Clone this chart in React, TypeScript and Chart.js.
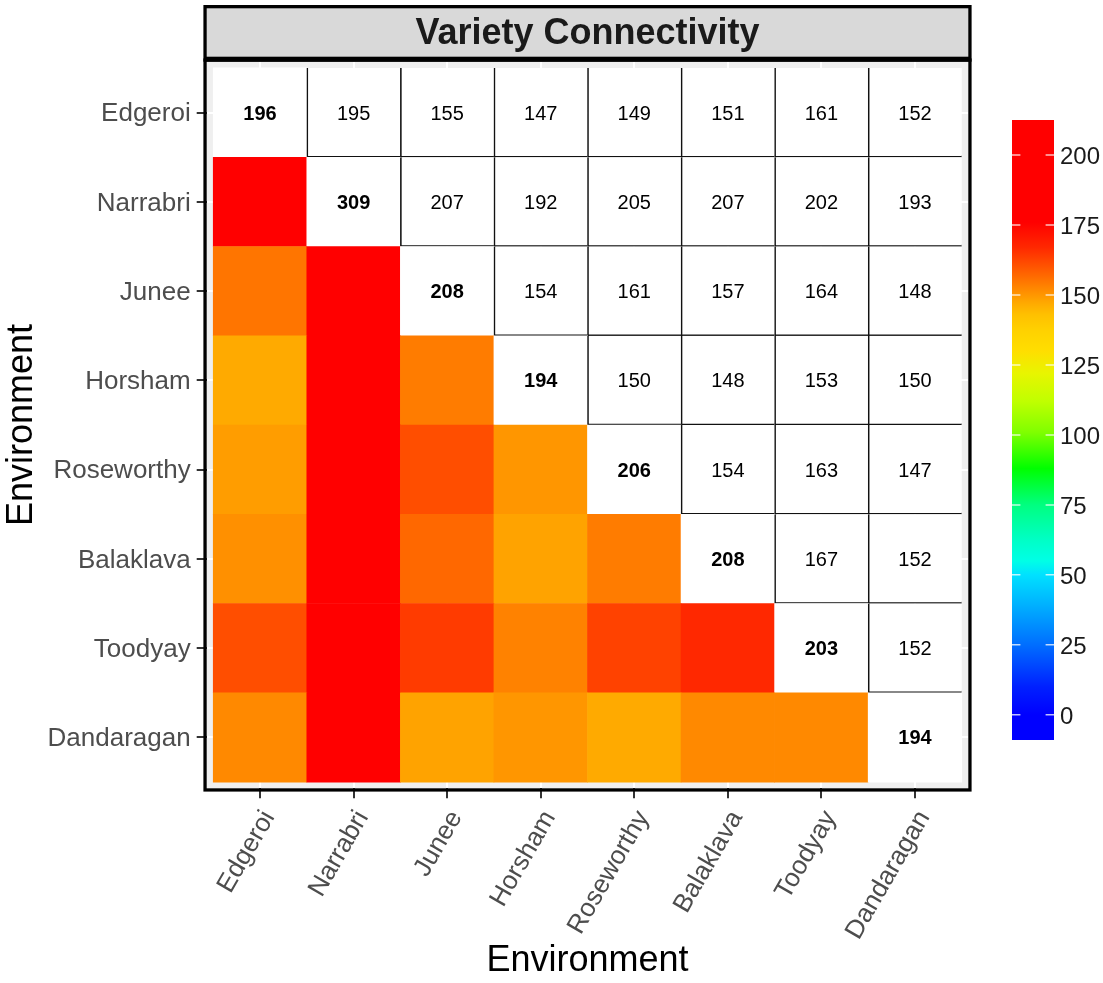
import React, { useEffect, useRef } from 'react';
import { Chart, registerables } from 'chart.js';

Chart.register(...registerables);

const FONT = '"Liberation Sans", Arial, Helvetica, sans-serif';
Chart.defaults.font.family = FONT;

// ---- data ----
const ENVIRONMENTS = ['Edgeroi', 'Narrabri', 'Junee', 'Horsham', 'Roseworthy', 'Balaklava', 'Toodyay', 'Dandaragan'];
// upper triangle, each row starts at its diagonal
const ROW_EDGEROI = [196, 195, 155, 147, 149, 151, 161, 152];
const ROW_NARRABRI = [309, 207, 192, 205, 207, 202, 193];
const ROW_JUNEE = [208, 154, 161, 157, 164, 148];
const ROW_HORSHAM = [194, 150, 148, 153, 150];
const ROW_ROSEWORTHY = [206, 154, 163, 147];
const ROW_BALAKLAVA = [208, 167, 152];
const ROW_TOODYAY = [203, 152];
const ROW_DANDARAGAN = [194];
const UPPER_ROWS = [ROW_EDGEROI, ROW_NARRABRI, ROW_JUNEE, ROW_HORSHAM, ROW_ROSEWORTHY, ROW_BALAKLAVA, ROW_TOODYAY, ROW_DANDARAGAN];

const LEGEND_TICKS = [0, 25, 50, 75, 100, 125, 150, 175, 200];
const LEGEND_MIN = -9;
const LEGEND_MAX = 212.5;

const TITLE = 'Variety Connectivity';
const AXIS_TITLE = 'Environment';

// ---- colour scale ----
const COLOR_STOPS: [number, number[]][] = [
  [0, [0, 0, 255]],
  [10, [0, 32, 255]],
  [25, [0, 110, 255]],
  [40, [0, 180, 255]],
  [50, [0, 225, 255]],
  [55, [0, 255, 230]],
  [62, [0, 255, 200]],
  [75, [0, 255, 128]],
  [88, [0, 255, 0]],
  [101, [128, 255, 0]],
  [112, [192, 255, 0]],
  [122, [232, 245, 0]],
  [130, [255, 222, 0]],
  [137, [255, 210, 0]],
  [143, [255, 192, 0]],
  [147, [255, 170, 0]],
  [157, [255, 104, 0]],
  [167, [255, 40, 0]],
  [176, [255, 0, 0]],
];

function colorFor(v: number): string {
  const s = COLOR_STOPS;
  if (v <= s[0][0]) return `rgb(${s[0][1].join(',')})`;
  if (v >= s[s.length - 1][0]) return `rgb(${s[s.length - 1][1].join(',')})`;
  for (let i = 0; i < s.length - 1; i++) {
    const [a, ca] = s[i];
    const [b, cb] = s[i + 1];
    if (v >= a && v <= b) {
      const t = (v - a) / (b - a);
      const c = ca.map((x, k) => Math.round(x + (cb[k] - x) * t));
      return `rgb(${c.join(',')})`;
    }
  }
  return 'rgb(255,0,0)';
}

function valueAt(r: number, c: number): number {
  return c >= r ? UPPER_ROWS[r][c - r] : UPPER_ROWS[c][r - c];
}

const EXPAND = 0.07;

export default function App() {
  const mainRef = useRef<HTMLCanvasElement>(null);
  const barRef = useRef<HTMLCanvasElement>(null);

  useEffect(() => {
    const n = ENVIRONMENTS.length;
    const cells: any[] = [];
    const bg: string[] = [];
    for (let r = 0; r < n; r++) {
      for (let c = 0; c < n; c++) {
        const v = valueAt(r, c);
        cells.push({ x: c, y: [r - 0.5, r + 0.5], v, r, c });
        bg.push(c >= r ? '#FFFFFF' : colorFor(v));
      }
    }

    const panelPlugin = {
      id: 'panel',
      beforeDraw(chart: any) {
        const { ctx, chartArea: a } = chart;
        ctx.save();
        ctx.fillStyle = '#EFEFEF';
        ctx.fillRect(a.left, a.top, a.right - a.left, a.bottom - a.top);
        ctx.restore();
      },
      afterDatasetsDraw(chart: any) {
        const { ctx, scales } = chart;
        ctx.save();
        ctx.textAlign = 'center';
        ctx.textBaseline = 'middle';
        ctx.fillStyle = '#000000';
        for (let r = 0; r < n; r++) {
          for (let c = r; c < n; c++) {
            ctx.font = `${c === r ? 'bold ' : ''}20px ${FONT}`;
            ctx.fillText(String(valueAt(r, c)), scales.x.getPixelForValue(c), scales.y.getPixelForValue(r) + 1.5);
          }
        }
        ctx.restore();
      },
      afterDraw(chart: any) {
        const { ctx, chartArea: a } = chart;
        const bw = 3.3;
        ctx.save();
        // panel border
        ctx.strokeStyle = '#000000';
        ctx.lineWidth = bw;
        ctx.strokeRect(a.left - bw / 2, a.top - bw / 2, a.right - a.left + bw, a.bottom - a.top + bw);
        // strip
        const stripTop = 5;
        ctx.fillStyle = '#000000';
        ctx.fillRect(a.left - bw, stripTop, a.right - a.left + 2 * bw, a.top - stripTop);
        ctx.fillStyle = '#D9D9D9';
        ctx.fillRect(a.left, stripTop + bw, a.right - a.left, a.top - stripTop - bw - 5);
        ctx.fillStyle = '#1A1A1A';
        ctx.font = `bold 36px ${FONT}`;
        ctx.textAlign = 'center';
        ctx.textBaseline = 'middle';
        ctx.fillText(TITLE, (a.left + a.right) / 2, 34);
        ctx.restore();
      },
    };

    const axisCommon = {
      type: 'linear' as const,
      offset: false,
      grid: { offset: false, color: '#FFFFFF', lineWidth: 2, tickColor: '#333333', tickLength: 10, tickWidth: 2 },
      border: { display: false },
      title: { display: true, text: AXIS_TITLE, font: { size: 36 }, color: '#000000', padding: 0 },
    };

    // a blank leading line nudges the label slightly, matching the reference placement
    const nudged = (v: any) => (ENVIRONMENTS[v] !== undefined ? ['', ENVIRONMENTS[v]] : '');

    const main = new Chart(mainRef.current!, {
      type: 'bar',
      data: {
        datasets: [
          {
            data: cells,
            backgroundColor: bg,
            borderColor: '#111111',
            borderSkipped: false,
            borderWidth: (ctx: any) => {
              const d = ctx.raw;
              if (!d) return 0;
              return d.c > d.r ? { left: 1.6, bottom: 1.6, top: 0, right: 0 } : 0;
            },
            barPercentage: 1,
            categoryPercentage: 1,
          } as any,
        ],
      },
      options: {
        animation: false,
        responsive: false,
        events: [],
        layout: { padding: { top: 61.7, right: 134.7, bottom: 0, left: 0 } },
        plugins: { legend: { display: false }, tooltip: { enabled: false }, title: { display: false } },
        scales: {
          x: {
            ...axisCommon,
            min: -0.5 - EXPAND,
            max: n - 0.5 + EXPAND,
            afterBuildTicks: (s: any) => {
              s.ticks = ENVIRONMENTS.map((_, i) => ({ value: i }));
            },
            afterFit: (s: any) => {
              s.height = 194.7;
            },
            ticks: {
              autoSkip: false,
              maxRotation: 60,
              minRotation: 60,
              padding: 7,
              font: { size: 26, lineHeight: 0.4 },
              color: '#4D4D4D',
              callback: nudged,
            },
          },
          y: {
            ...axisCommon,
            reverse: true,
            min: -0.5 - EXPAND,
            max: n - 0.5 + EXPAND,
            afterBuildTicks: (s: any) => {
              s.ticks = ENVIRONMENTS.map((_, i) => ({ value: i }));
            },
            afterFit: (s: any) => {
              s.width = 206.7;
            },
            ticks: {
              autoSkip: false,
              padding: 6,
              font: { size: 26, lineHeight: 0.13 },
              color: '#4D4D4D',
              callback: nudged,
            },
          },
        } as any,
      },
      plugins: [panelPlugin],
    });

    const legendTickPlugin = {
      id: 'legendTicks',
      afterDatasetsDraw(chart: any) {
        const { ctx, chartArea: a, scales } = chart;
        ctx.save();
        ctx.strokeStyle = 'rgba(255,255,255,0.75)';
        ctx.lineWidth = 1.5;
        const len = (a.right - a.left) / 5;
        for (const t of LEGEND_TICKS) {
          const y = scales.y.getPixelForValue(t);
          ctx.beginPath();
          ctx.moveTo(a.left, y);
          ctx.lineTo(a.left + len, y);
          ctx.moveTo(a.right - len, y);
          ctx.lineTo(a.right, y);
          ctx.stroke();
        }
        ctx.restore();
      },
    };

    const bar = new Chart(barRef.current!, {
      type: 'bar',
      data: {
        labels: [''],
        datasets: [
          {
            data: [[LEGEND_MIN, LEGEND_MAX]],
            backgroundColor: (ctx: any) => {
              const { chart } = ctx;
              const a = chart.chartArea;
              if (!a) return '#FF0000';
              const g = chart.ctx.createLinearGradient(0, a.bottom, 0, a.top);
              const span = LEGEND_MAX - LEGEND_MIN;
              g.addColorStop(0, colorFor(LEGEND_MIN));
              for (const [v] of COLOR_STOPS) {
                const p = (v - LEGEND_MIN) / span;
                if (p >= 0 && p <= 1) g.addColorStop(p, colorFor(v));
              }
              g.addColorStop(1, colorFor(LEGEND_MAX));
              return g;
            },
            borderWidth: 0,
            barPercentage: 1,
            categoryPercentage: 1,
          } as any,
        ],
      },
      options: {
        animation: false,
        responsive: false,
        events: [],
        layout: { padding: { top: 120, bottom: 243, left: 12, right: 0 } },
        plugins: { legend: { display: false }, tooltip: { enabled: false } },
        scales: {
          x: { display: false },
          y: {
            position: 'right',
            min: LEGEND_MIN,
            max: LEGEND_MAX,
            afterBuildTicks: (s: any) => {
              s.ticks = LEGEND_TICKS.map((v) => ({ value: v }));
            },
            afterFit: (s: any) => {
              s.width = 49;
            },
            grid: { display: false, drawTicks: false },
            border: { display: false },
            ticks: {
              padding: 6,
              font: { size: 24, lineHeight: 0.21 },
              color: '#1A1A1A',
              callback: (v: any) => ['', String(v)],
            },
          },
        } as any,
      },
      plugins: [legendTickPlugin],
    });

    return () => {
      main.destroy();
      bar.destroy();
    };
  }, []);

  return (
    <div style={{ position: 'fixed', left: 0, top: 0, width: 1103, height: 983, background: '#FFFFFF' }}>
      <canvas
        ref={mainRef}
        width={1103}
        height={983}
        style={{ position: 'absolute', left: 0, top: 0, width: 1103, height: 983 }}
      />
      <canvas
        ref={barRef}
        width={103}
        height={983}
        style={{ position: 'absolute', left: 1000, top: 0, width: 103, height: 983 }}
      />
    </div>
  );
}
